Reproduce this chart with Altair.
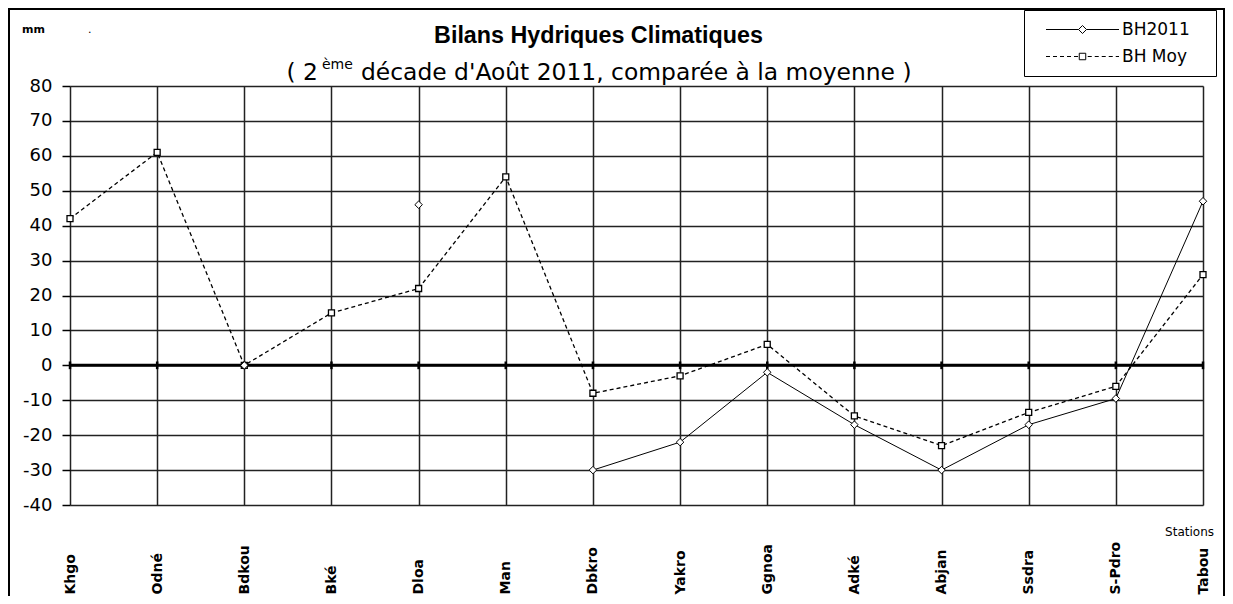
import altair as alt
import pandas as pd

# ---------------- data ----------------
stations = ["Khgo", "Odné", "Bdkou", "Bké", "Dloa", "Man", "Dbkro",
            "Yakro", "Ggnoa", "Adké", "Abjan", "Ssdra", "S-Pdro", "Tabou"]
bh2011 = [None, None, 0, None, 46, None, -30, -22, -2, -17, -30, -17, -9.5, 47]
bh_moy = [42, 61, 0, 15, 22, 54, -8, -3, 6, -14.5, -23, -13.5, -6, 26]
series_names = ["BH2011", "BH Moy"]
y_ticks = list(range(-40, 81, 10))

rows = []
for s, a, b in zip(stations, bh2011, bh_moy):
    rows.append({"station": s, "series": "BH2011", "value": a})
    rows.append({"station": s, "series": "BH Moy", "value": b})
df = pd.DataFrame(rows)
st_df = pd.DataFrame({"station": stations})
one = pd.DataFrame({"k": [0]})

W, H = 1133, 419
GRID = "#222222"
FONT = "DejaVu Sans"

# ---------------- legend symbols (line + marker as one path) ----------------
S = 4.0  # px per path unit for symbolSize 64


def seg(x0, x1):
    return f"M{x0 / S:.3f},0H{x1 / S:.3f}"


cx = 39.0
x_start, x_end = 2.5, 75.5
solid_path = seg(x_start, cx - 4) + seg(cx + 4, x_end) + (
    f"M{(cx - 4) / S:.3f},0L{cx / S:.3f},{-4 / S:.3f}L{(cx + 4) / S:.3f},0"
    f"L{cx / S:.3f},{4 / S:.3f}Z")
dash_parts = []
x = x_start
while x < cx - 3.25:
    dash_parts.append(seg(x, min(x + 4, cx - 3.25)))
    x += 7
x = cx + 3.25 + 2
while x < x_end:
    dash_parts.append(seg(x, min(x + 4, x_end)))
    x += 7
q = 3.25 / S
dash_path = "".join(dash_parts) + (
    f"M{(cx / S) - q:.3f},{-q:.3f}H{(cx / S) + q:.3f}V{q:.3f}H{(cx / S) - q:.3f}Z")

# ---------------- encodings ----------------
y_scale = alt.Scale(domain=[-40, 80], nice=False, zero=False)
y_axis = alt.Axis(values=y_ticks, title=None, grid=True, tickSize=8,
                  tickColor="black", tickWidth=1.5, labelPadding=10,
                  labelFont=FONT, labelFontSize=18, labelColor="black",
                  labelOverlap=False, labelExpr="'' + datum.value",
                  domain=False, gridColor=GRID, gridWidth=1.5)

x_enc = alt.X(
    "station:N", sort=stations,
    scale=alt.Scale(type="point", padding=0),
    axis=alt.Axis(title=None, grid=True, ticks=False, tickSize=0, domain=False,
                  labelAngle=270, labelAlign="left", labelBaseline="middle",
                  labelPadding=89, labelFont=FONT, labelFontWeight="bold",
                  labelFontSize=14, labelColor="black", labelOverlap=False,
                  gridColor=GRID, gridWidth=1.5),
)
y_enc = alt.Y("value:Q", scale=y_scale, axis=y_axis)

base = alt.Chart(df)

zero_rule = alt.Chart(one).mark_rule(color="black", strokeWidth=3).encode(
    y=alt.Y(datum=0, scale=y_scale, axis=y_axis))

zero_ticks = alt.Chart(st_df).mark_rule(color="black", strokeWidth=2.5).encode(
    x=x_enc, y=alt.Y(datum=-1.1, scale=y_scale, axis=y_axis), y2=alt.Y2(datum=1.1))

line_moy = base.transform_filter(alt.datum.series == "BH Moy").mark_line(
    color="black", strokeWidth=1.3, strokeDash=[4, 3]
).encode(x=x_enc, y=y_enc)

line_2011 = base.transform_filter(alt.datum.series == "BH2011").mark_line(
    color="black", strokeWidth=1, invalid="break-paths-filter-domains"
).encode(x=x_enc, y=y_enc)

pts_moy = base.transform_filter(alt.datum.series == "BH Moy").mark_point(
    shape="square", filled=True, fill="white", stroke="black",
    strokeWidth=1.3, size=36, opacity=1
).encode(x=x_enc, y=y_enc)

pts_2011 = base.transform_filter(alt.datum.series == "BH2011").mark_point(
    shape="diamond", filled=True, fill="white", stroke="black",
    strokeWidth=1, size=56, opacity=1
).encode(x=x_enc, y=y_enc)

NB = "\u00a0"
legend_layer = base.mark_point(opacity=0, color="black", filled=False,
                               strokeWidth=1).encode(
    x=x_enc, y=y_enc,
    shape=alt.Shape(
        "series:N",
        scale=alt.Scale(domain=series_names, range=[solid_path, dash_path]),
        legend=alt.Legend(
            title=NB * 2, orient="none", legendX=954, legendY=-76,
            titleOrient="right", titlePadding=15, titleFontSize=17,
            titleFont=FONT,
            padding=11, rowPadding=9, strokeColor="black", fillColor="white",
            symbolSize=64, symbolStrokeWidth=1, symbolOpacity=1,
            symbolFillColor="white", symbolStrokeColor="black",
            labelFont=FONT, labelFontSize=17, labelColor="black",
            labelOffset=70,
        ),
    ),
)

frame = alt.Chart(one).mark_rect(filled=False, color="black", strokeWidth=2).encode(
    x=alt.value(-61), x2=alt.value(1154), y=alt.value(-77), y2=alt.value(520))


def txt(text, px, py, size, weight="normal", align="left", font=FONT):
    return alt.Chart(one).mark_text(
        text=text, font=font, fontSize=size, fontWeight=weight, align=align,
        baseline="alphabetic", color="black"
    ).encode(x=alt.value(px), y=alt.value(py))


title = txt("Bilans Hydriques Climatiques", 528.5, -43, 23.3, "bold", "center",
            "Liberation Sans")
sub1 = txt("( 2", 248, -6, 23.4, align="right")
sub2 = txt("ème", 252, -17, 14)
sub3 = txt("décade d'Août 2011, comparée à la moyenne )", 291, -6, 23.4)
mm = txt("mm", -48, -53, 11, "bold")
dot = txt(".", 18, -53, 11)
stations_lbl = txt("Stations", 1144, 450, 12, align="right")

chart = alt.layer(
    frame, zero_rule, line_moy, line_2011, zero_ticks, pts_moy, pts_2011,
    legend_layer, title, sub1, sub2, sub3, mm, dot, stations_lbl,
).properties(
    width=W, height=H,
    padding={"left": 62, "top": 78, "right": 22, "bottom": 91},
    autosize=alt.AutoSizeParams(type="none"),
).configure_view(
    stroke="black", strokeWidth=1.5
).configure(background="white")

chart.save("out.html", embed_options={"renderer": "svg", "actions": False})
